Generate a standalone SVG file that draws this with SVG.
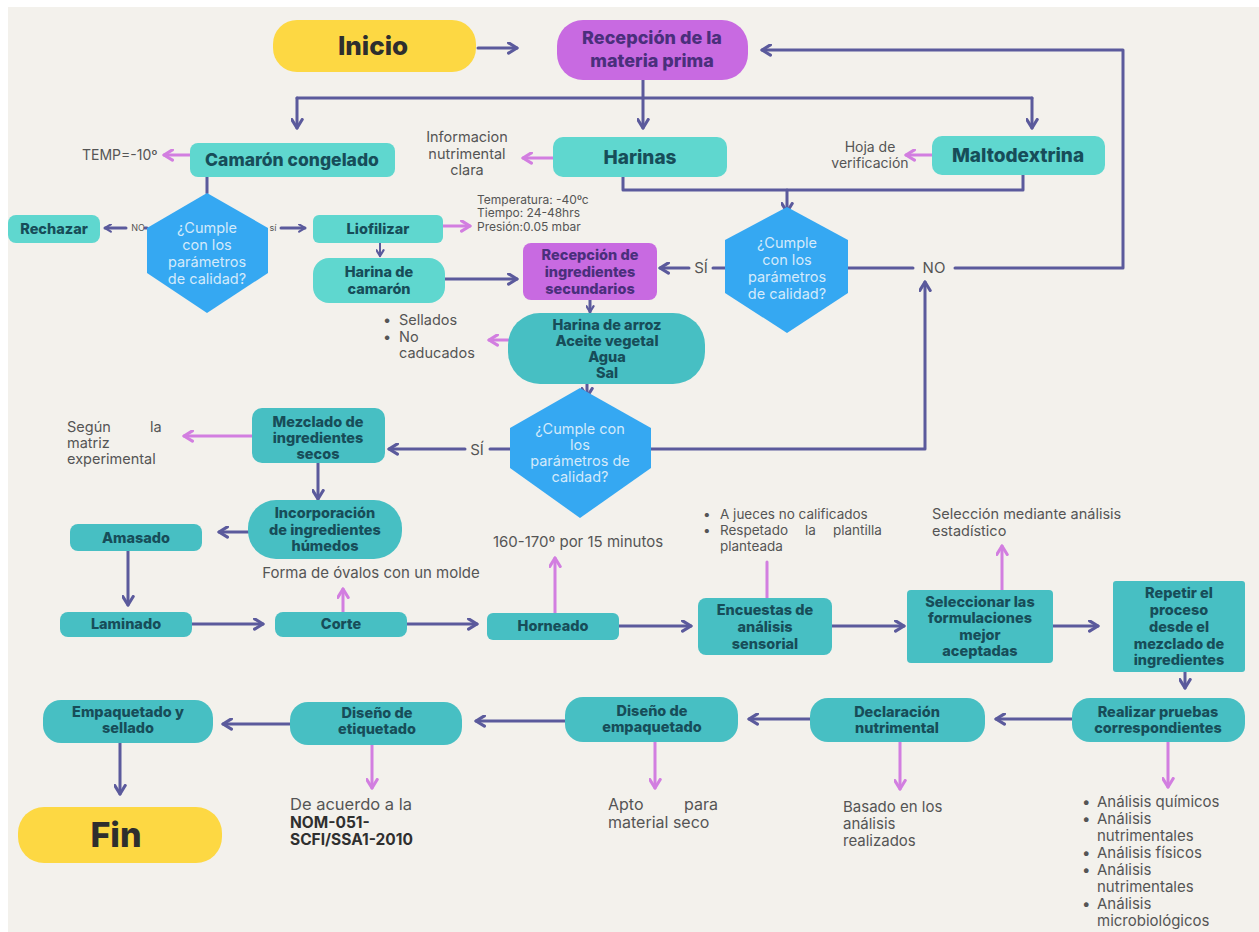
<svg xmlns="http://www.w3.org/2000/svg" width="1259" height="932" viewBox="0 0 1259 932">
<defs>
<style>
.bg{fill:#f3f1ec}
.yl{fill:#fdd843}
.pu{fill:#c86ae1}
.lt{fill:#5fd7cf}
.mt{fill:#47bfc3}
.dm{fill:#35a8f2}
.bx{font-family:Inter,"Liberation Sans",sans-serif;font-weight:800;fill:#174d59;text-anchor:middle;font-size:14.5px}
.bxp{font-family:Inter,"Liberation Sans",sans-serif;font-weight:800;fill:#4a2f7c;text-anchor:middle;font-size:14.5px}
.by{font-family:Inter,"Liberation Sans",sans-serif;font-weight:800;fill:#2e2e2e;text-anchor:middle}
.dt{font-family:Inter,"Liberation Sans",sans-serif;font-weight:400;fill:#d3eafb;text-anchor:middle;font-size:14.5px}
.nt{font-family:Inter,"Liberation Sans",sans-serif;font-weight:400;fill:#555555;font-size:15px}
.ntb{font-family:Inter,"Liberation Sans",sans-serif;font-weight:700;fill:#2f2f2f}
.lb{font-family:Inter,"Liberation Sans",sans-serif;font-weight:400;fill:#555555;text-anchor:middle}
.c{fill:none;stroke:#5b5a9c;stroke-width:3;stroke-linecap:round;stroke-linejoin:round}
.p{fill:none;stroke:#d27ee0;stroke-width:3;stroke-linecap:round}
</style>
<marker id="ac" viewBox="0 0 10 10" refX="8" refY="5" markerWidth="13" markerHeight="13" markerUnits="userSpaceOnUse" orient="auto">
<path d="M1.5,1 L8,5 L1.5,9" fill="none" stroke="#5b5a9c" stroke-width="2.4" stroke-linecap="round" stroke-linejoin="round"/>
</marker>
<marker id="as" viewBox="0 0 10 10" refX="8" refY="5" markerWidth="9" markerHeight="9" markerUnits="userSpaceOnUse" orient="auto">
<path d="M1.5,1 L8,5 L1.5,9" fill="none" stroke="#5b5a9c" stroke-width="2.4" stroke-linecap="round" stroke-linejoin="round"/>
</marker>
<marker id="ap" viewBox="0 0 10 10" refX="8" refY="5" markerWidth="13" markerHeight="13" markerUnits="userSpaceOnUse" orient="auto">
<path d="M1.5,1 L8,5 L1.5,9" fill="none" stroke="#d27ee0" stroke-width="2.4" stroke-linecap="round" stroke-linejoin="round"/>
</marker>
</defs>

<rect x="0" y="0" width="1259" height="932" fill="#ffffff"/>
<rect class="bg" x="8" y="7" width="1251" height="925"/>

<g id="connectors">
<path class="c" d="M478,48 H517" marker-end="url(#ac)"/>
<path class="c" d="M848,268 H913"/>
<path class="c" d="M955,268 H1123 V50 H762" marker-end="url(#ac)"/>
<path class="c" d="M643,80 V98"/>
<path class="c" d="M297,98 H1032"/>
<path class="c" d="M297,98 V128" marker-end="url(#ac)"/>
<path class="c" d="M643,98 V128" marker-end="url(#ac)"/>
<path class="c" d="M1032,98 V128" marker-end="url(#ac)"/>
<path class="c" d="M207,177 V193"/>
<path class="c" d="M147,228 H145"/>
<path class="c" d="M126,228 H105" marker-end="url(#as)"/>
<path class="c" d="M281,228 H305" marker-end="url(#as)"/>
<path class="c" d="M380,243 V256" style="stroke-width:2" marker-end="url(#as)"/>
<path class="c" d="M445,279 H517" marker-end="url(#ac)"/>
<path class="c" d="M623,177 V190 H1023 V175"/>
<path class="c" d="M787,190 V212" marker-end="url(#ac)"/>
<path class="c" d="M725,268 H713"/>
<path class="c" d="M689,268 H660" marker-end="url(#ac)"/>
<path class="c" d="M590,300 V312" marker-end="url(#as)"/>
<path class="c" d="M587,384 V397" marker-end="url(#ac)"/>
<path class="c" d="M651,449 H925 V282" marker-end="url(#ac)"/>
<path class="c" d="M510,449 H490"/>
<path class="c" d="M465,449 H389" marker-end="url(#ac)"/>
<path class="c" d="M318,463 V499" marker-end="url(#ac)"/>
<path class="c" d="M248,532 H219" marker-end="url(#ac)"/>
<path class="c" d="M128,551 V605" marker-end="url(#ac)"/>
<path class="c" d="M192,624 H263" marker-end="url(#ac)"/>
<path class="c" d="M407,624 H477" marker-end="url(#ac)"/>
<path class="c" d="M619,626 H691" marker-end="url(#ac)"/>
<path class="c" d="M832,626 H904" marker-end="url(#ac)"/>
<path class="c" d="M1053,626 H1098" marker-end="url(#ac)"/>
<path class="c" d="M1185,672 V688" marker-end="url(#ac)"/>
<path class="c" d="M1072,719 H996" marker-end="url(#ac)"/>
<path class="c" d="M810,719 H749" marker-end="url(#ac)"/>
<path class="c" d="M565,721 H476" marker-end="url(#ac)"/>
<path class="c" d="M290,724 H223" marker-end="url(#ac)"/>
<path class="c" d="M120,743 V794" marker-end="url(#ac)"/>
<path class="p" d="M190,155 H164" marker-end="url(#ap)"/>
<path class="p" d="M553,158 H523" marker-end="url(#ap)"/>
<path class="p" d="M932,155 H906" marker-end="url(#ap)"/>
<path class="p" d="M443,226 H470" marker-end="url(#ap)"/>
<path class="p" d="M508,340 H489" marker-end="url(#ap)"/>
<path class="p" d="M252,436 H184" marker-end="url(#ap)"/>
<path class="p" d="M343,612 V589" marker-end="url(#ap)"/>
<path class="p" d="M555,613 V558" marker-end="url(#ap)"/>
<path class="p" d="M767,598 V562"/>
<path class="p" d="M1002,590 V546" marker-end="url(#ap)"/>
<path class="p" d="M1168,742 V787" marker-end="url(#ap)"/>
<path class="p" d="M900,742 V789" marker-end="url(#ap)"/>
<path class="p" d="M655,742 V788" marker-end="url(#ap)"/>
<path class="p" d="M372,745 V788" marker-end="url(#ap)"/>
<text class="lb" x="138" y="231" style="font-size:9px">NO</text>
<text class="lb" x="273" y="231" style="font-size:9px">sí</text>
<text class="lb" x="701" y="273" style="font-size:15px">SÍ</text>
<text class="lb" x="934" y="273" style="font-size:15px">NO</text>
<text class="lb" x="477" y="455" style="font-size:15px">SÍ</text>
</g>

<g id="inicio"><rect class="yl" x="273" y="20" width="203" height="52" rx="24"/><text class="by" x="373" y="55" style="font-size:26px">Inicio</text></g>
<g id="recepcion-materia"><rect class="pu" x="557" y="20" width="191" height="60" rx="26"/><text class="bxp" x="652" y="44" style="font-size:18px">Recepción de la</text><text class="bxp" x="652" y="67" style="font-size:18px">materia prima</text></g>
<g id="camaron-congelado"><rect class="lt" x="190" y="143" width="205" height="34" rx="8"/><text class="bx" x="292" y="166" style="font-size:17.5px">Camarón congelado</text></g>
<g id="harinas"><rect class="lt" x="553" y="137" width="174" height="40" rx="10"/><text class="bx" x="640" y="164" style="font-size:19px">Harinas</text></g>
<g id="maltodextrina"><rect class="lt" x="932" y="136" width="173" height="39" rx="10"/><text class="bx" x="1018" y="162" style="font-size:19px">Maltodextrina</text></g>
<g id="decision-1"><polygon class="dm" points="207,193 268,228 268,273 207,313 147,273 147,228"/>
<text class="dt" x="207" y="233">¿Cumple</text><text class="dt" x="207" y="250">con los</text><text class="dt" x="207" y="267">parámetros</text><text class="dt" x="207" y="284">de calidad?</text></g>
<g id="rechazar"><rect class="lt" x="8" y="215" width="92" height="28" rx="8"/><text class="bx" x="54" y="234">Rechazar</text></g>
<g id="liofilizar"><rect class="lt" x="313" y="215" width="130" height="28" rx="6"/><text class="bx" x="378" y="234">Liofilizar</text></g>
<g id="harina-camaron"><rect class="lt" x="313" y="258" width="132" height="45" rx="16"/><text class="bx" x="379" y="277">Harina de</text><text class="bx" x="379" y="294">camarón</text></g>
<g id="decision-2"><polygon class="dm" points="787,207 848,240 848,293 787,333 725,293 725,240"/>
<text class="dt" x="787" y="248">¿Cumple</text><text class="dt" x="787" y="265">con los</text><text class="dt" x="787" y="282">parámetros</text><text class="dt" x="787" y="299">de calidad?</text></g>
<g id="recepcion-ingredientes"><rect class="pu" x="523" y="243" width="134" height="57" rx="8"/><text class="bxp" x="590" y="260">Recepción de</text><text class="bxp" x="590" y="277">ingredientes</text><text class="bxp" x="590" y="294">secundarios</text></g>
<g id="ingredientes-secundarios"><rect class="mt" x="508" y="313" width="197" height="71" rx="32"/><text class="bx" x="607" y="330">Harina de arroz</text><text class="bx" x="607" y="346">Aceite vegetal</text><text class="bx" x="607" y="362">Agua</text><text class="bx" x="607" y="378">Sal</text></g>
<g id="decision-3"><polygon class="dm" points="580,388 651,428 651,468 580,518 510,468 510,428"/>
<text class="dt" x="580" y="434">¿Cumple con</text><text class="dt" x="580" y="450">los</text><text class="dt" x="580" y="466">parámetros de</text><text class="dt" x="580" y="482">calidad?</text></g>
<g id="mezclado"><rect class="mt" x="252" y="408" width="133" height="55" rx="10"/><text class="bx" x="318" y="427">Mezclado de</text><text class="bx" x="318" y="443">ingredientes</text><text class="bx" x="318" y="459">secos</text></g>
<g id="incorporacion"><rect class="mt" x="248" y="500" width="154" height="59" rx="28"/><text class="bx" x="325" y="518">Incorporación</text><text class="bx" x="325" y="535">de ingredientes</text><text class="bx" x="325" y="551">húmedos</text></g>
<g id="amasado"><rect class="mt" x="70" y="524" width="132" height="27" rx="8"/><text class="bx" x="136" y="543">Amasado</text></g>
<g id="laminado"><rect class="mt" x="60" y="612" width="132" height="25" rx="8"/><text class="bx" x="126" y="629">Laminado</text></g>
<g id="corte"><rect class="mt" x="275" y="612" width="132" height="25" rx="8"/><text class="bx" x="341" y="629">Corte</text></g>
<g id="horneado"><rect class="mt" x="487" y="613" width="132" height="27" rx="6"/><text class="bx" x="553" y="631">Horneado</text></g>
<g id="encuestas"><rect class="mt" x="698" y="598" width="134" height="57" rx="8"/><text class="bx" x="765" y="615">Encuestas de</text><text class="bx" x="765" y="632">análisis</text><text class="bx" x="765" y="649">sensorial</text></g>
<g id="seleccionar"><rect class="mt" x="907" y="590" width="146" height="73" rx="4"/><text class="bx" x="980" y="607">Seleccionar las</text><text class="bx" x="980" y="623">formulaciones</text><text class="bx" x="980" y="640">mejor</text><text class="bx" x="980" y="656">aceptadas</text></g>
<g id="repetir"><rect class="mt" x="1113" y="581" width="132" height="91" rx="3"/><text class="bx" x="1179" y="598">Repetir el</text><text class="bx" x="1179" y="615">proceso</text><text class="bx" x="1179" y="632">desde el</text><text class="bx" x="1179" y="649">mezclado de</text><text class="bx" x="1179" y="665">ingredientes</text></g>
<g id="realizar-pruebas"><rect class="mt" x="1072" y="698" width="173" height="44" rx="18"/><text class="bx" x="1158" y="717">Realizar pruebas</text><text class="bx" x="1158" y="733">correspondientes</text></g>
<g id="declaracion"><rect class="mt" x="810" y="698" width="175" height="44" rx="18"/><text class="bx" x="897" y="717">Declaración</text><text class="bx" x="897" y="733">nutrimental</text></g>
<g id="diseno-empaquetado"><rect class="mt" x="565" y="697" width="173" height="45" rx="18"/><text class="bx" x="652" y="716">Diseño de</text><text class="bx" x="652" y="732">empaquetado</text></g>
<g id="diseno-etiquetado"><rect class="mt" x="290" y="702" width="172" height="43" rx="18"/><text class="bx" x="377" y="718">Diseño de</text><text class="bx" x="377" y="734">etiquetado</text></g>
<g id="empaquetado-sellado"><rect class="mt" x="43" y="700" width="170" height="43" rx="18"/><text class="bx" x="128" y="717">Empaquetado y</text><text class="bx" x="128" y="733">sellado</text></g>
<g id="fin"><rect class="yl" x="18" y="807" width="204" height="56" rx="26"/><text class="by" x="116" y="847" style="font-size:34px">Fin</text></g>

<g id="notes">
<text class="nt" x="82" y="160" style="font-size:14px">TEMP=-10º</text>
<text class="nt" text-anchor="middle" x="467" y="142" style="font-size:14.5px">Informacion</text>
<text class="nt" text-anchor="middle" x="467" y="159" style="font-size:14.5px">nutrimental</text>
<text class="nt" text-anchor="middle" x="467" y="175" style="font-size:14.5px">clara</text>
<text class="nt" text-anchor="middle" x="870" y="152" style="font-size:14px">Hoja de</text>
<text class="nt" text-anchor="middle" x="870" y="168" style="font-size:14px">verificación</text>
<text class="nt" x="477" y="204" style="font-size:12px">Temperatura: -40ºc</text>
<text class="nt" x="477" y="217" style="font-size:12px">Tiempo: 24-48hrs</text>
<text class="nt" x="477" y="231" style="font-size:12px">Presión:0.05 mbar</text>
<text class="nt" x="383" y="325" style="font-size:14.5px">•</text><text class="nt" x="399" y="325" style="font-size:14.5px">Sellados</text>
<text class="nt" x="383" y="342" style="font-size:14.5px">•</text><text class="nt" x="399" y="342" style="font-size:14.5px">No</text>
<text class="nt" x="399" y="358" style="font-size:14.5px">caducados</text>
<text class="nt" x="67" y="432" style="font-size:14.5px">Según</text><text class="nt" x="150" y="432" style="font-size:14.5px">la</text>
<text class="nt" x="67" y="448" style="font-size:14.5px">matriz</text>
<text class="nt" x="67" y="464" style="font-size:14.5px">experimental</text>
<text class="nt" text-anchor="middle" x="371" y="578">Forma de óvalos con un molde</text>
<text class="nt" text-anchor="middle" x="578" y="547">160-170º por 15 minutos</text>
<text class="nt" x="703" y="519" style="font-size:13.5px">•</text><text class="nt" x="720" y="519" style="font-size:13.5px">A jueces no calificados</text>
<text class="nt" x="703" y="535" style="font-size:13.5px">•</text><text class="nt" x="720" y="535" style="font-size:13.5px">Respetado</text><text class="nt" x="805" y="535" style="font-size:13.5px">la</text><text class="nt" x="833" y="535" style="font-size:13.5px">plantilla</text>
<text class="nt" x="720" y="551" style="font-size:13.5px">planteada</text>
<text class="nt" x="932" y="519" style="font-size:14.5px">Selección mediante análisis</text>
<text class="nt" x="932" y="536" style="font-size:14.5px">estadístico</text>
<text class="nt" x="1082" y="807" style="font-size:15px">•</text><text class="nt" x="1097" y="807" style="font-size:15px">Análisis químicos</text>
<text class="nt" x="1082" y="824" style="font-size:15px">•</text><text class="nt" x="1097" y="824" style="font-size:15px">Análisis</text>
<text class="nt" x="1097" y="841" style="font-size:15px">nutrimentales</text>
<text class="nt" x="1082" y="858" style="font-size:15px">•</text><text class="nt" x="1097" y="858" style="font-size:15px">Análisis físicos</text>
<text class="nt" x="1082" y="875" style="font-size:15px">•</text><text class="nt" x="1097" y="875" style="font-size:15px">Análisis</text>
<text class="nt" x="1097" y="892" style="font-size:15px">nutrimentales</text>
<text class="nt" x="1082" y="909" style="font-size:15px">•</text><text class="nt" x="1097" y="909" style="font-size:15px">Análisis</text>
<text class="nt" x="1097" y="926" style="font-size:15px">microbiológicos</text>
<text class="nt" x="843" y="812" style="font-size:15px">Basado en los</text>
<text class="nt" x="843" y="829" style="font-size:15px">análisis</text>
<text class="nt" x="843" y="846" style="font-size:15px">realizados</text>
<text class="nt" x="608" y="810" style="font-size:16px">Apto</text><text class="nt" x="684" y="810" style="font-size:16px">para</text>
<text class="nt" x="608" y="828" style="font-size:16px">material seco</text>
<text class="nt" x="290" y="810" style="font-size:16.5px">De acuerdo a la</text>
<text class="ntb" x="290" y="828" style="font-size:15.5px">NOM-051-</text>
<text class="ntb" x="290" y="845" style="font-size:15.5px">SCFI/SSA1-2010</text>
</g>
</svg>
